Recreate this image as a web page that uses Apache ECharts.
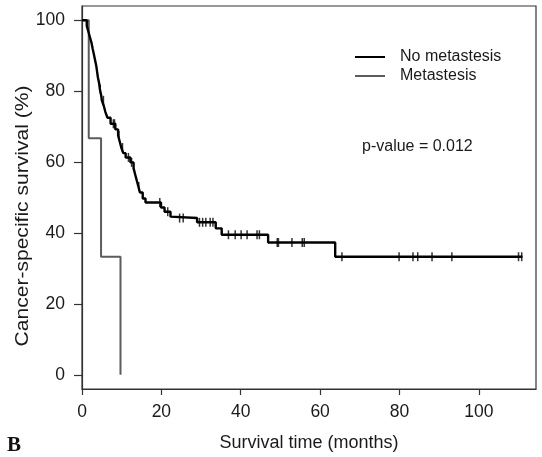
<!DOCTYPE html>
<html>
<head>
<meta charset="utf-8">
<script src="https://cdn.jsdelivr.net/npm/echarts@6/dist/echarts.min.js"></script>
<style>
  html, body { margin: 0; padding: 0; background: #fff; }
  #chart { width: 542px; height: 457px; }
</style>
</head>
<body>
<div id="chart"></div>
<script>
// Kaplan-Meier steps: event time (months) and survival (%) after the event
const noMetTimes = [0, 1.2, 1.6, 2.0, 2.4, 2.7, 3.0, 3.3, 3.6, 3.8, 4.0, 4.3, 4.5, 4.8, 5.0, 5.5, 5.9, 6.4, 7.2,
  8.4, 9.1, 9.5, 9.9, 10.4, 11.0, 12.2, 13.0, 13.4, 13.8, 14.2, 14.6, 15.3, 16.0,
  19.9, 20.8, 22.3, 22.8, 29.0, 33.7, 35.2, 46.9, 63.8, 111];
const noMetSurv = [100, 98.4, 96.8, 95.2, 93.6, 91.9, 90.3, 88.7, 87.1, 85.5, 83.9, 82.3, 80.6, 79.0, 77.4, 75.8, 74.1, 72.5, 70.8,
  69.2, 67.5, 65.8, 64.1, 62.5, 61.3, 59.9, 58.2, 56.5, 54.8, 53.1, 51.4, 49.7, 48.6,
  47.2, 46.0, 44.6, 44.2, 43.0, 41.3, 39.5, 37.3, 33.3, 33.3];
// censored observations (months)
const noMetCensored = [4.6, 5.4, 7.9, 8.2, 9.3, 10.2, 11.7, 12.5, 14.3, 19.6, 21.6, 24.6, 25.5,
  29.6, 30.4, 31.2, 32.3, 33.0, 36.9, 38.6, 40.1, 41.6, 44.1, 44.7,
  49.2, 49.5, 52.9, 55.5, 56.0, 65.5, 79.9, 83.4, 84.6, 88.2, 93.2, 110.0, 110.8];

const metTimes = [0, 1.7, 4.8, 9.7];
const metSurv = [100, 66.7, 33.3, 0];

const xTicks = [0, 20, 40, 60, 80, 100];
const yTicks = [0, 20, 40, 60, 80, 100];

const seriesNames = ['No metastesis', 'Metastesis'];
const pValueText = 'p-value = 0.012';

function survivalAt(times, surv, t) {
  let s = surv[0];
  for (let i = 0; i < times.length; i++) {
    if (times[i] <= t) s = surv[i]; else break;
  }
  return s;
}

const noMetLine = noMetTimes.map((t, i) => [t, noMetSurv[i]]);
const metLine = metTimes.map((t, i) => [t, metSurv[i]]);
const censorPts = noMetCensored.map(t => [t, survivalAt(noMetTimes, noMetSurv, t)]);

const FONT = 'Liberation Sans, Arial, sans-serif';
const INK = '#1a1a1a';
const FRAME = '#333';

const chart = echarts.init(document.getElementById('chart'), null, { renderer: 'canvas' });
chart.setOption({
  animation: false,
  backgroundColor: '#fff',
  grid: {
    left: 82, right: 6, top: 6, bottom: 66,
    show: true, borderColor: FRAME, borderWidth: 1.2, backgroundColor: 'transparent'
  },
  legend: {
    data: seriesNames,
    orient: 'vertical',
    left: 355, top: 49, padding: 0,
    itemWidth: 30, itemHeight: 2, itemGap: 3,
    icon: 'rect',
    textStyle: { fontFamily: FONT, fontSize: 16, color: INK, padding: [0, 0, 0, 10] }
  },
  xAxis: {
    type: 'value', min: 0, max: 114.4,
    axisLine: { onZero: false, lineStyle: { color: FRAME, width: 1.2 } },
    axisTick: { show: true, inside: false, length: 6, lineStyle: { color: FRAME, width: 1.2 }, customValues: xTicks },
    axisLabel: { fontFamily: FONT, fontSize: 17.5, color: INK, margin: 14, customValues: xTicks },
    splitLine: { show: false },
    name: 'Survival time (months)',
    nameLocation: 'middle', nameGap: 45,
    nameTextStyle: { fontFamily: FONT, fontSize: 18, color: INK }
  },
  yAxis: {
    type: 'value', min: -4, max: 104,
    axisLine: { onZero: false, lineStyle: { color: FRAME, width: 1.2 } },
    axisTick: { show: true, inside: false, length: 8, lineStyle: { color: FRAME, width: 1.2 }, customValues: yTicks },
    axisLabel: { fontFamily: FONT, fontSize: 17.5, color: INK, margin: 17, customValues: yTicks },
    splitLine: { show: false }
  },
  graphic: [
    {
      type: 'text', x: 23, y: 216, rotation: Math.PI / 2, scaleX: 1.17,
      style: {
        text: 'Cancer-specific survival (%)', fontFamily: FONT, fontSize: 18, fill: INK,
        textAlign: 'center', textVerticalAlign: 'middle'
      }
    },
    {
      type: 'text', x: 362, y: 147,
      style: { text: pValueText, fontFamily: FONT, fontSize: 16, fill: INK, textAlign: 'left', textVerticalAlign: 'middle' }
    },
    {
      type: 'text', x: 7, y: 456,
      style: { text: 'B', fontFamily: 'Liberation Serif, Times New Roman, serif', fontWeight: 'bold', fontSize: 21, fill: '#111', textAlign: 'left', textVerticalAlign: 'bottom' }
    }
  ],
  series: [
    {
      name: 'Metastesis', type: 'line', step: 'end', data: metLine,
      showSymbol: false, color: '#5c5c5c',
      lineStyle: { color: '#5c5c5c', width: 2 }, z: 2
    },
    {
      name: 'No metastesis', type: 'line', step: 'end', data: noMetLine,
      showSymbol: false, color: '#000',
      lineStyle: { color: '#000', width: 2.4 }, z: 3
    },
    {
      name: 'censored', type: 'scatter', data: censorPts,
      symbol: 'rect', symbolSize: [1.5, 9],
      itemStyle: { color: '#000' }, z: 4
    }
  ]
});
</script>
</body>
</html>
